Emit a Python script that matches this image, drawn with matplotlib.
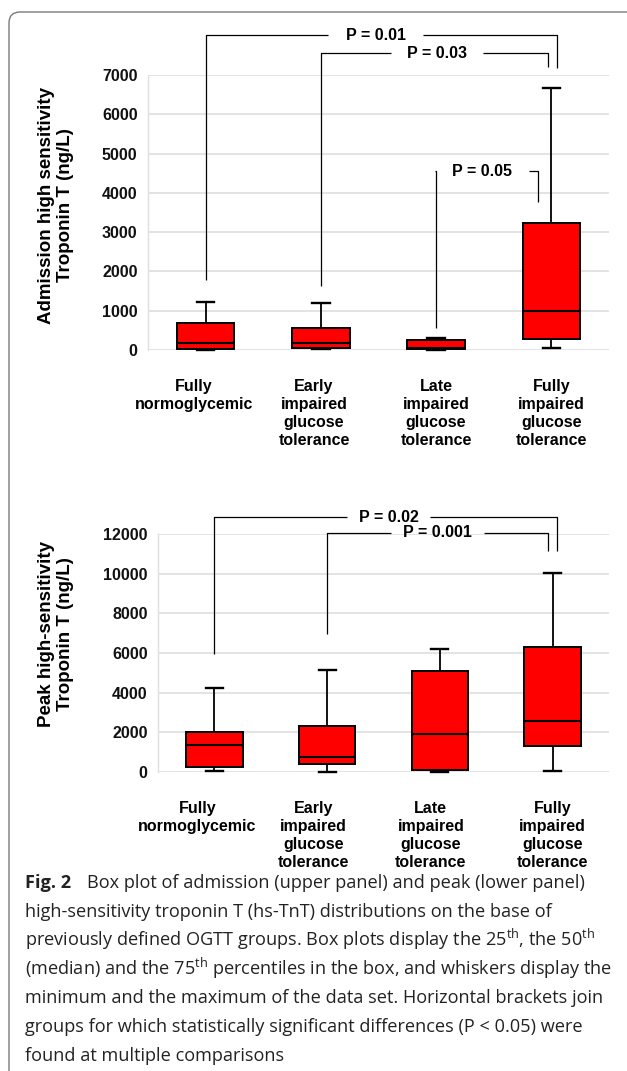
import matplotlib
matplotlib.use("Agg")
import matplotlib.pyplot as plt
import matplotlib.patches as mpatches
from matplotlib.transforms import IdentityTransform

plt.rcParams['font.family'] = ['Liberation Sans', 'DejaVu Sans']
plt.rcParams['mathtext.fontset'] = 'custom'
plt.rcParams['mathtext.rm'] = 'Open Sans'

# groups (x axis)
groups = ["Fully\nnormoglycemic",
          "Early\nimpaired\nglucose\ntolerance",
          "Late\nimpaired\nglucose\ntolerance",
          "Fully\nimpaired\nglucose\ntolerance"]

# admission hs-TnT (ng/L): min, 25th, median, 75th, max
adm_min = [0, 25, 10, 42]
adm_q1 = [33, 40, 17, 271]
adm_med = [186, 170, 45, 992]
adm_q3 = [679, 551, 254, 3223]
adm_max = [1229, 1204, 300, 6675]

# peak hs-TnT (ng/L)
peak_min = [50, 0, 0, 50]
peak_q1 = [253, 371, 84, 1282]
peak_med = [1349, 725, 1889, 2563]
peak_q3 = [1990, 2327, 5093, 6324]
peak_max = [4250, 5160, 6189, 10050]

adm_ticks = [0, 1000, 2000, 3000, 4000, 5000, 6000, 7000]
peak_ticks = [0, 2000, 4000, 6000, 8000, 10000, 12000]

# brackets: left group, right end, bar height, left leg end, right leg end, label
adm_brackets = [(1, 4.05, 8015, 1781, 7176, "P = 0.01"),
                (2, 3.97, 7550, 1636, 7210, "P = 0.03"),
                (3, 3.88, 4555, 567, 3774, "P = 0.05")]
peak_brackets = [(1, 4.04, 12862, 5950, 11146, "P = 0.02"),
                 (2, 3.96, 12070, 6939, 11146, "P = 0.001")]
# where the label sits on the bar and how wide the gap is
adm_label_x = [(2.475, 0.83), (3.01, 0.80), (3.40, 0.82)]
peak_label_x = [(2.545, 0.73), (2.98, 0.82)]

W, H = 627, 1071
fig = plt.figure(figsize=(W / 100, H / 100), dpi=100)

# frame
frame = mpatches.FancyBboxPatch((9, -60), 700, H - 12 + 60,
                                boxstyle="round,pad=0,rounding_size=11",
                                transform=IdentityTransform(),
                                facecolor='none', edgecolor='#7a7a7a', linewidth=1.0)
fig.patches.append(frame)


def panel(rect, mins, q1s, meds, q3s, maxs, ticks, ylabel, label_y, brackets, label_x, lab_off):
    ax = fig.add_axes(rect)
    pos = [1, 2, 3, 4]
    stats = []
    for i in range(4):
        stats.append(dict(whislo=mins[i], q1=q1s[i], med=meds[i], q3=q3s[i],
                          whishi=maxs[i], fliers=[]))
    art = ax.bxp(stats, positions=pos, widths=0.5, capwidths=0.15,
                 patch_artist=True, showfliers=False, manage_ticks=False,
                 boxprops=dict(facecolor='#ff0000', edgecolor='black', linewidth=1.4),
                 medianprops=dict(color='black', linewidth=1.5),
                 whiskerprops=dict(color='black', linewidth=1.3),
                 capprops=dict(color='black', linewidth=1.7))
    for k in art:
        for a in art[k]:
            a.set_clip_on(False)
            a.set_zorder(3)
    ax.set_xlim(0.5, 4.5)
    ax.set_ylim(0, ticks[-1])
    ax.set_yticks(ticks)
    ax.set_yticklabels([str(t) for t in ticks], fontsize=11.5, fontweight='bold')
    ax.tick_params(axis='y', length=0, pad=7.5, colors='#111111')
    ax.set_xticks([])
    ax.grid(axis='y', color='#e0e0e0', linewidth=1.3)
    ax.set_axisbelow(True)
    for s in ['top', 'right', 'bottom']:
        ax.spines[s].set_visible(False)
    ax.spines['left'].set_color('#e0e0e0')
    ax.spines['left'].set_linewidth(1.0)

    for i, g in enumerate(groups):
        ax.annotate(g, xy=(pos[i] + lab_off[i], 0), xycoords=('data', 'axes fraction'),
                    xytext=(0, -21), textcoords='offset points',
                    ha='center', va='top', fontsize=11.5, fontweight='bold',
                    linespacing=1.25, annotation_clip=False)

    for (x1, x2, yb, y1, y2, lab), (tx, gap) in zip(brackets, label_x):
        kw = dict(color='black', linewidth=0.9, clip_on=False, solid_capstyle='butt')
        ax.plot([x1, x1, tx - gap / 2], [y1, yb, yb], **kw)
        ax.plot([tx + gap / 2, x2, x2], [yb, yb, y2], **kw)
        ax.text(tx, yb, lab, ha='center', va='center', fontsize=11.5,
                fontweight='bold', clip_on=False)

    fig.text(56 / W, 1 - label_y / H, ylabel, rotation=90, ha='center', va='center',
             fontsize=13.5, fontweight='bold', multialignment='center', linespacing=1.2)
    return ax


panel([148 / W, 1 - 350 / H, 461 / W, 275 / H], adm_min, adm_q1, adm_med, adm_q3, adm_max,
      adm_ticks, "Admission high sensitivity\nTroponin T (ng/L)", 205,
      adm_brackets, adm_label_x, [-0.1, -0.06, 0, 0])
panel([158 / W, 1 - 771.7 / H, 451 / W, 237.4 / H], peak_min, peak_q1, peak_med, peak_q3, peak_max,
      peak_ticks, "Peak high-sensitivity\nTroponin T (ng/L)", 634,
      peak_brackets, peak_label_x, [-0.15, -0.12, -0.08, 0])

# caption
cap_lines = ["Box plot of admission (upper panel) and peak (lower panel)",
             "high-sensitivity troponin T (hs-TnT) distributions on the base of",
             "previously defined OGTT groups. Box plots display the 25$^{\\mathrm{th}}$, the 50$^{\\mathrm{th}}$",
             "(median) and the 75$^{\\mathrm{th}}$ percentiles in the box, and whiskers display the",
             "minimum and the maximum of the data set. Horizontal brackets join",
             "groups for which statistically significant differences (P < 0.05) were",
             "found at multiple comparisons"]
cap_font = dict(family=['Open Sans', 'DejaVu Sans'], fontsize=13.1, color='#222222')
base0 = 888
step = 28.8
fig.text(25 / W, 1 - base0 / H, "Fig. 2", va='baseline', ha='left',
         fontweight='bold', **cap_font)
for i, line in enumerate(cap_lines):
    x0 = 87 if i == 0 else 25
    fig.text(x0 / W, 1 - (base0 + i * step) / H, line, va='baseline', ha='left', **cap_font)

fig.savefig("out.png", dpi=100)
